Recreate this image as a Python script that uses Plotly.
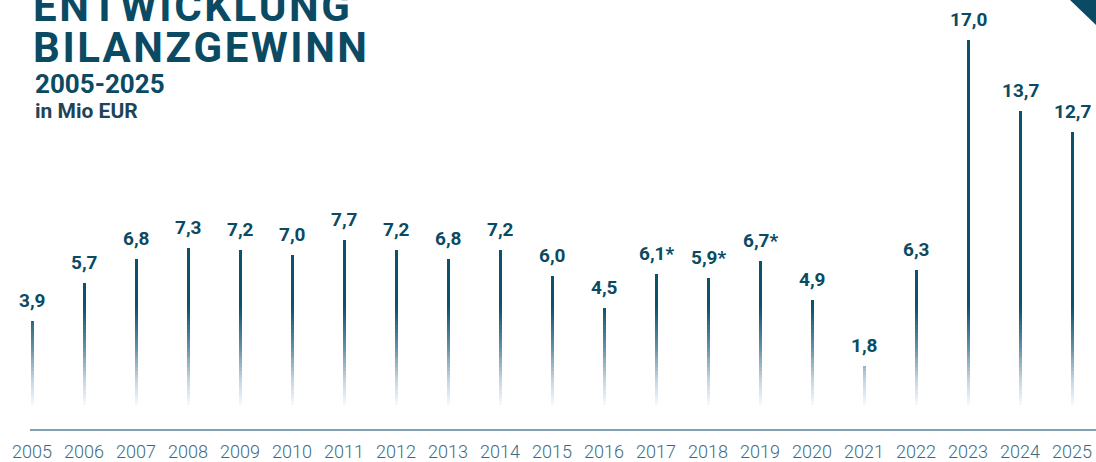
import plotly.graph_objects as go

# ---- data ----
years = [str(y) for y in range(2005, 2026)]
values = [3.9, 5.7, 6.8, 7.3, 7.2, 7.0, 7.7, 7.2, 6.8, 7.2, 6.0, 4.5, 6.1, 5.9, 6.7, 4.9, 1.8, 6.3, 17.0, 13.7, 12.7]
labels = ["3,9", "5,7", "6,8", "7,3", "7,2", "7,0", "7,7", "7,2", "6,8", "7,2", "6,0", "4,5",
          "6,1*", "5,9*", "6,7*", "4,9", "1,8", "6,3", "17,0", "13,7", "12,7"]

title_lines = ["ENTWICKLUNG", "BILANZGEWINN"]
subtitle = "2005-2025"
unit_text = "in Mio EUR"

# ---- style ----
DARK = (11, 82, 110)
TITLE = "#0b4a63"
TICK = "#3e6b80"
W, H = 1096, 462
ML, MB = 30, 31
PLOT_H = H - MB
PLOT_W = W - ML
PX_PER_UNIT = 21.6
ZERO_PX = 407
Y_MIN = -(PLOT_H - ZERO_PX) / PX_PER_UNIT
Y_MAX = ZERO_PX / PX_PER_UNIT
BAR_W = 0.06
GAP = '<span style="font-size:25px">\u200a</span>'

# gradient: split the lower part of each bar into stacked segments
G = 4.6          # value where gradient becomes solid
N = 26


def seg_color(t):
    stops = [(0.0, (248, 250, 252)), (0.25, (196, 213, 226)), (0.6, (95, 140, 165)), (1.0, DARK)]
    for (t0, c0), (t1, c1) in zip(stops[:-1], stops[1:]):
        if t0 <= t <= t1:
            f = (t - t0) / (t1 - t0)
            c = [round(a + (b - a) * f) for a, b in zip(c0, c1)]
            return "rgb(%d,%d,%d)" % tuple(c)
    return "rgb(%d,%d,%d)" % DARK


xpos = list(range(len(years)))

fig = go.Figure()
for k in range(N):
    lo, hi = G * k / N, G * (k + 1) / N
    seg = [max(min(v, hi) - lo, 0) for v in values]
    fig.add_trace(go.Bar(x=xpos, y=seg, width=BAR_W,
                         marker=dict(color=seg_color((k + 0.5) / N), line=dict(width=0)),
                         hoverinfo="skip", showlegend=False))
fig.add_trace(go.Bar(x=xpos, y=[max(v - G, 0) for v in values], width=BAR_W,
                     marker=dict(color="rgb(%d,%d,%d)" % DARK, line=dict(width=0)),
                     hoverinfo="skip", showlegend=False))

annotations = []
for i, (v, lab) in enumerate(zip(values, labels)):
    annotations.append(dict(x=i, y=v, xref="x", yref="y", text="<b>%s</b>" % lab, showarrow=False,
                            yanchor="bottom", yshift=7,
                            font=dict(family="Roboto", size=19, color=TITLE)))


def px_x(px):
    return (px - ML) / PLOT_W


def px_y(py):
    return 1 - py / PLOT_H


def spaced(s):
    return GAP.join(s)


annotations += [
    dict(xref="paper", yref="paper", x=px_x(31), y=px_y(7), xanchor="left", yanchor="middle",
         text="<b>%s</b>" % spaced(title_lines[0]), showarrow=False,
         font=dict(family="Roboto", size=42, color=TITLE)),
    dict(xref="paper", yref="paper", x=px_x(31), y=px_y(48), xanchor="left", yanchor="middle",
         text="<b>%s</b>" % spaced(title_lines[1]), showarrow=False,
         font=dict(family="Roboto", size=42, color=TITLE)),
    dict(xref="paper", yref="paper", x=px_x(33), y=px_y(84), xanchor="left", yanchor="middle",
         text="<b>%s</b>" % subtitle, showarrow=False,
         font=dict(family="Roboto", size=26, color=TITLE)),
    dict(xref="paper", yref="paper", x=px_x(33), y=px_y(112), xanchor="left", yanchor="middle",
         text="<b>%s</b>" % unit_text, showarrow=False,
         font=dict(family="Roboto", size=21, color="#1d4557")),
]

fig.update_layout(
    width=W, height=H, autosize=False,
    margin=dict(l=ML, r=0, t=0, b=MB),
    paper_bgcolor="white", plot_bgcolor="white",
    barmode="stack", bargap=0,
    showlegend=False,
    annotations=annotations,
    shapes=[dict(type="path", xref="paper", yref="paper",
                 path="M %f %f L 1 %f L 1 %f Z" % (px_x(1070), px_y(0), px_y(0), px_y(25)),
                 fillcolor=TITLE, line=dict(width=0))],
    xaxis=dict(range=[-0.04, 20.46], showgrid=False, zeroline=False,
               tickmode="array", tickvals=xpos, ticktext=years,
               showline=True, linecolor="#7ea2b4", linewidth=1.5,
               ticks="outside", ticklen=6, tickcolor="rgba(0,0,0,0)",
               tickfont=dict(family="Roboto", size=18, color=TICK, weight=300)),
    yaxis=dict(range=[Y_MIN, Y_MAX], visible=False, showgrid=False, zeroline=False),
)

fig.write_html("out.html", config={"displayModeBar": False},
               post_script="document.body.style.margin='0';document.body.style.overflow='hidden';")
